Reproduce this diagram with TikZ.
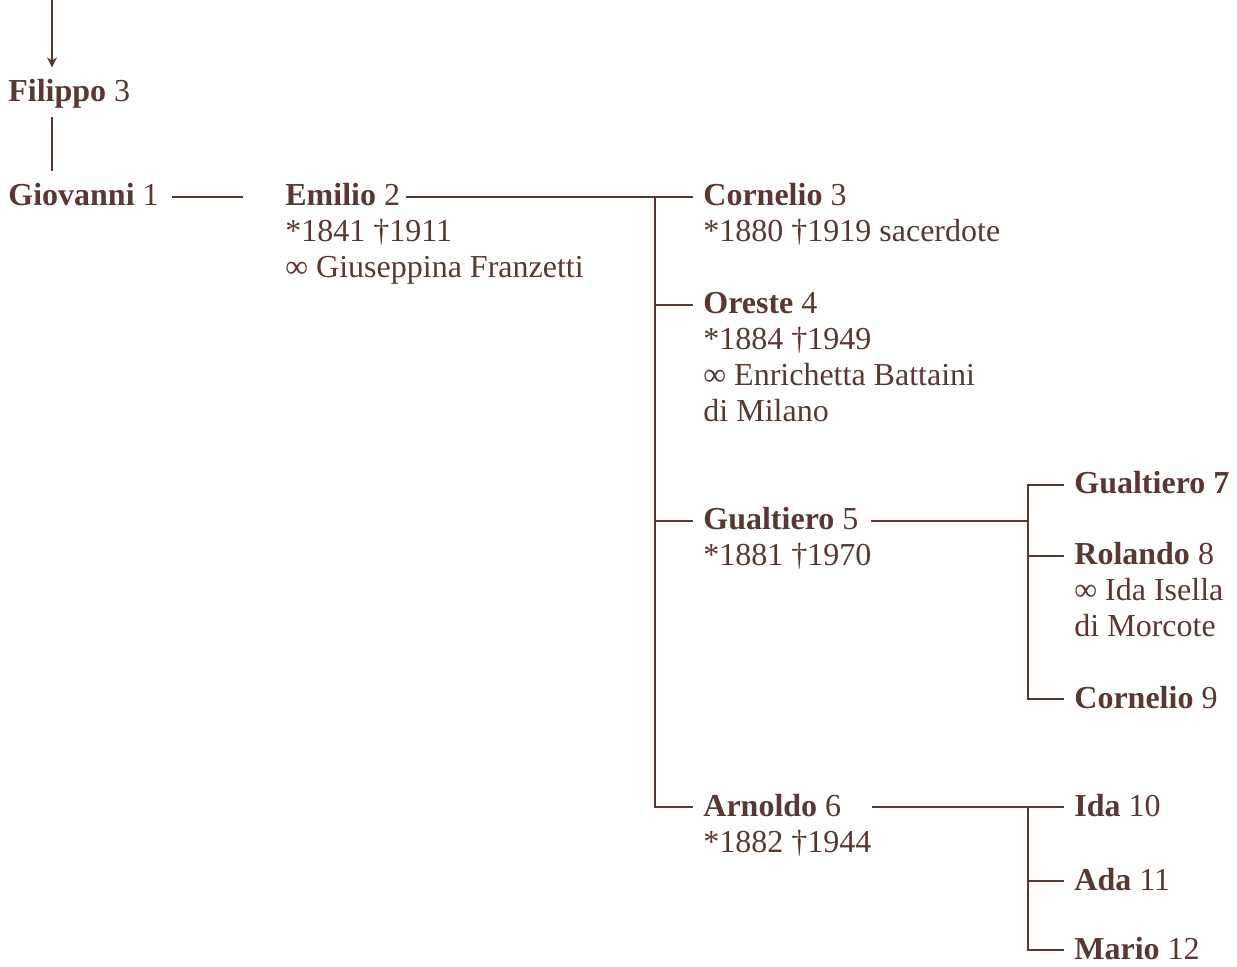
\documentclass[tikz,border=0pt]{standalone}
\usepackage{fontspec}
\setmainfont{Liberation Serif}
\usepackage{tikz}
\usetikzlibrary{arrows.meta,positioning,calc}
\usepackage{xcolor}
\definecolor{inkbrown}{RGB}{88,56,48}
\newcommand{\pname}[2]{\textbf{#1} #2}
\newcommand{\plines}[1]{\begin{tabular}[t]{@{}l@{}}#1\end{tabular}}

\begin{document}
\begin{tikzpicture}[x=0.5pt, y=-0.5pt, color=inkbrown,
    font=\fontsize{16}{18}\selectfont,
    who/.style={anchor=base west, inner sep=0pt, text=inkbrown},
    info/.style={anchor=base west, inner sep=0pt, text=inkbrown},
    link/.style={draw=inkbrown, line width=1pt}]
\useasboundingbox (0,0) rectangle (1237,967);
% first generations
\coordinate (top) at (52,0);
\node[who] (fil) at (8,102) {\pname{Filippo}{3}};
\node[who] (gio) at (8,206) {\pname{Giovanni}{1}};
\node[who] (emi) at (285,206) {\pname{Emilio}{2}};
\node[info] (emi-d) at ([yshift=-18pt]emi.base west) {\plines{*1841 †1911\\ ∞ Giuseppina Franzetti}};
% children of Emilio
\node[who] (cor) at (703,206) {\pname{Cornelio}{3}};
\node[info] (cor-d) at ([yshift=-18pt]cor.base west) {\plines{*1880 †1919 sacerdote}};
\node[who] (ore) at (703,314) {\pname{Oreste}{4}};
\node[info] (ore-d) at ([yshift=-18pt]ore.base west) {\plines{*1884 †1949\\ ∞ Enrichetta Battaini\\ di Milano}};
\node[who] (gua) at (703,530) {\pname{Gualtiero}{5}};
\node[info] (gua-d) at ([yshift=-18pt]gua.base west) {\plines{*1881 †1970}};
\node[who] (arn) at (703,816) {\pname{Arnoldo}{6}};
\node[info] (arn-d) at ([yshift=-18pt]arn.base west) {\plines{*1882 †1944}};
% grandchildren
\node[who] (gw7) at (1074,494) {\textbf{Gualtiero 7}};
\node[who] (rol) at (1074,565) {\pname{Rolando}{8}};
\node[info] (rol-d) at ([yshift=-18pt]rol.base west) {\plines{∞ Ida Isella\\ di Morcote}};
\node[who] (cn9) at (1074,708) {\pname{Cornelio}{9}};
\node[who] (ida) at (1074,816) {\pname{Ida}{10}};
\node[who] (ada) at (1074,890) {\pname{Ada}{11}};
\node[who] (mar) at (1074,959) {\pname{Mario}{12}};
% connector ends
\foreach \p in {cor,ore,gua,arn,gw7,rol,cn9,ida,ada,mar}
  \coordinate (\p-in) at ([xshift=-5pt,yshift=4.5pt]\p.base west);
\coordinate (emi-out) at ([xshift=3pt,yshift=4.5pt]emi.base east);
\coordinate (gua-out) at ([xshift=6pt,yshift=4.5pt]gua.base east);
\coordinate (arn-out) at ([xshift=15pt,yshift=4.5pt]arn.base east);
\coordinate (fork1) at ([xshift=-19pt]cor-in);
\coordinate (fork2) at ([xshift=-18pt]gw7-in);
% lines
\draw[link, -{Stealth[length=5pt,width=5pt]}] (top) -- ([yshift=6pt]fil.north -| top);
\draw[link] ([yshift=-4pt]fil.south -| top) -- ([yshift=6pt]gio.north -| top);
\draw[link] ([xshift=6.5pt,yshift=4.5pt]gio.base east) -- ([xshift=-21pt,yshift=4.5pt]emi.base west);
\draw[link] (emi-out) -- (cor-in);
\draw[link] (cor-in -| fork1) |- (arn-in);
\draw[link] (ore-in -| fork1) -- (ore-in);
\draw[link] (gua-in -| fork1) -- (gua-in);
\draw[link] (gua-out) -- (gua-out -| fork2);
\draw[link] (gw7-in) -- (gw7-in -| fork2) |- (cn9-in);
\draw[link] (rol-in -| fork2) -- (rol-in);
\draw[link] (arn-out) -- (ida-in);
\draw[link] (ida-in -| fork2) |- (mar-in);
\draw[link] (ada-in -| fork2) -- (ada-in);
\end{tikzpicture}
\end{document}
